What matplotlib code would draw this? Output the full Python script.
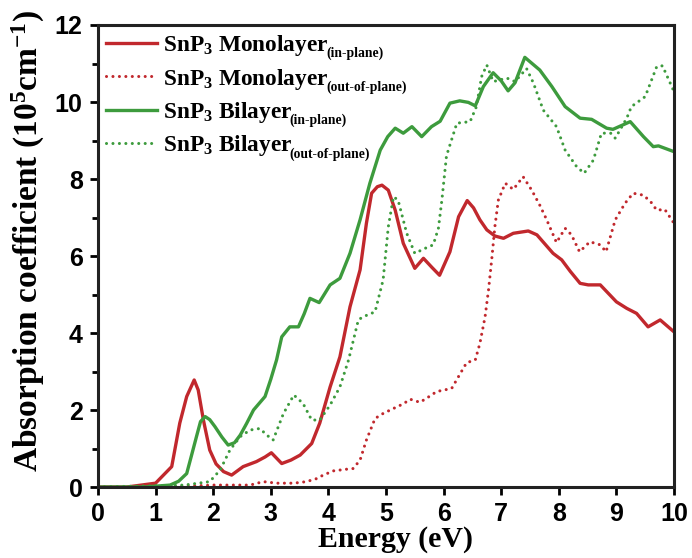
import matplotlib
matplotlib.use("Agg")
import matplotlib.pyplot as plt
from matplotlib.ticker import MultipleLocator

# monolayer, in-plane
mono_in_x = [0, 0.5, 1.0, 1.28, 1.42, 1.54, 1.67, 1.74, 1.83, 1.94, 2.05, 2.18, 2.32, 2.52, 2.75, 2.9,
             3.01, 3.1, 3.19, 3.35, 3.51, 3.71, 3.85, 4.03, 4.2, 4.375, 4.55, 4.66, 4.75, 4.85, 4.93,
             5.04, 5.16, 5.3, 5.5, 5.65, 5.8, 5.93, 6.11, 6.26, 6.41, 6.52, 6.63, 6.75, 6.89, 7.04,
             7.21, 7.47, 7.62, 7.9, 8.05, 8.2, 8.37, 8.51, 8.72, 9.0, 9.18, 9.35, 9.55, 9.76, 10.0]
mono_in_y = [0, 0.0, 0.1, 0.53, 1.66, 2.35, 2.78, 2.52, 1.74, 0.96, 0.6, 0.4, 0.31, 0.53, 0.66, 0.78,
             0.89, 0.75, 0.61, 0.7, 0.83, 1.13, 1.66, 2.6, 3.38, 4.68, 5.64, 6.85, 7.63, 7.8, 7.84,
             7.71, 7.19, 6.33, 5.68, 5.94, 5.7, 5.5, 6.11, 7.02, 7.44, 7.25, 6.94, 6.68, 6.52, 6.46,
             6.59, 6.65, 6.55, 6.07, 5.9, 5.6, 5.29, 5.25, 5.25, 4.81, 4.64, 4.51, 4.16, 4.34, 4.03]

# monolayer, out-of-plane
mono_out_x = [0, 1.0, 1.5, 2.0, 2.4, 2.64, 2.87, 3.1, 3.4, 3.62, 3.8, 3.91, 4.09, 4.3, 4.43, 4.55,
              4.66, 4.81, 4.95, 5.13, 5.3, 5.42, 5.59, 5.75, 5.88, 6.14, 6.31, 6.4, 6.55, 6.63, 6.72,
              6.78, 6.84, 6.89, 6.95, 7.07, 7.21, 7.38, 7.53, 7.67, 7.79, 7.96, 8.11, 8.22, 8.36,
              8.54, 8.72, 8.82, 8.98, 9.15, 9.29, 9.47, 9.6, 9.7, 9.84, 10.0]
mono_out_y = [0, 0, 0.02, 0.05, 0.05, 0.05, 0.14, 0.1, 0.1, 0.14, 0.22, 0.31, 0.42, 0.46, 0.48, 0.7,
              1.22, 1.78, 1.91, 2.04, 2.16, 2.28, 2.2, 2.35, 2.48, 2.56, 3.0, 3.23, 3.3, 3.73, 4.42,
              5.12, 5.98, 6.76, 7.45, 7.89, 7.73, 8.06, 7.71, 7.32, 6.94, 6.35, 6.72, 6.55, 6.11,
              6.37, 6.29, 6.11, 6.94, 7.37, 7.63, 7.58, 7.4, 7.19, 7.21, 6.85]

# bilayer, in-plane
bi_in_x = [0, 0.8, 1.25, 1.4, 1.54, 1.62, 1.71, 1.78, 1.86, 1.94, 2.03, 2.15, 2.26, 2.37, 2.47, 2.58,
           2.7, 2.9, 3.0, 3.1, 3.19, 3.33, 3.48, 3.58, 3.68, 3.84, 4.03, 4.2, 4.375, 4.55, 4.72, 4.9,
           5.03, 5.16, 5.3, 5.45, 5.62, 5.79, 5.94, 6.11, 6.28, 6.43, 6.55, 6.69, 6.86, 7.0, 7.12,
           7.24, 7.41, 7.67, 7.88, 8.11, 8.37, 8.57, 8.83, 8.94, 9.24, 9.47, 9.64, 9.73, 10.0]
bi_in_y = [0, 0, 0.05, 0.15, 0.35, 0.8, 1.31, 1.7, 1.83, 1.75, 1.57, 1.3, 1.09, 1.15, 1.35, 1.65,
           2.0, 2.35, 2.8, 3.3, 3.9, 4.16, 4.16, 4.5, 4.9, 4.79, 5.25, 5.42, 6.07, 6.94, 7.89, 8.75,
           9.1, 9.32, 9.19, 9.36, 9.1, 9.36, 9.5, 9.97, 10.03, 9.99, 9.9, 10.4, 10.76, 10.55, 10.29,
           10.5, 11.16, 10.83, 10.4, 9.88, 9.58, 9.55, 9.32, 9.29, 9.49, 9.1, 8.84, 8.86, 8.71]

# bilayer, out-of-plane
bi_out_x = [0, 1.5, 1.94, 2.12, 2.29, 2.47, 2.64, 2.81, 2.93, 3.04, 3.22, 3.4, 3.56, 3.71, 3.85, 4.03,
            4.2, 4.35, 4.52, 4.6, 4.81, 4.95, 5.04, 5.13, 5.21, 5.36, 5.5, 5.68, 5.82, 5.91, 5.97,
            6.05, 6.23, 6.46, 6.57, 6.66, 6.75, 6.86, 7.1, 7.24, 7.44, 7.56, 7.73, 7.96, 8.11, 8.31,
            8.44, 8.6, 8.74, 8.9, 8.98, 9.18, 9.26, 9.5, 9.7, 9.8, 10.0]
bi_out_y = [0, 0.05, 0.14, 0.44, 0.96, 1.31, 1.48, 1.52, 1.35, 1.22, 1.91, 2.39, 2.17, 1.74, 1.74, 2.13,
            2.6, 3.3, 4.34, 4.42, 4.55, 5.38, 6.76, 7.54, 7.45, 6.59, 6.07, 6.2, 6.29, 6.72, 7.45,
            8.6, 9.45, 9.49, 9.88, 10.66, 10.96, 10.53, 10.62, 10.53, 10.87, 10.49, 9.79, 9.36, 8.75,
            8.32, 8.15, 8.49, 9.19, 9.19, 9.06, 9.58, 9.88, 10.14, 10.92, 10.94, 10.27]

labels = [r"SnP$_3$ Monolayer", r"SnP$_3$ Monolayer", r"SnP$_3$ Bilayer", r"SnP$_3$ Bilayer"]
subs = ["(in-plane)", "(out-of-plane)", "(in-plane)", "(out-of-plane)"]

red = "#c1282d"
green = "#3d9b3d"

plt.rcParams["mathtext.fontset"] = "custom"
plt.rcParams["mathtext.rm"] = "Liberation Serif:bold"
plt.rcParams["mathtext.it"] = "Liberation Serif:bold"
plt.rcParams["mathtext.bf"] = "Liberation Serif:bold"

fig = plt.figure(figsize=(6.92, 5.58), dpi=100)
ax = fig.add_axes([0.1416, 0.1272, 0.8324, 0.8280])

dots = (0, (0.01, 2.1))
ax.plot(mono_in_x, mono_in_y, color=red, lw=2.4, label=labels[0])
ax.plot(mono_out_x, mono_out_y, color=red, lw=2.2, ls=dots, dash_capstyle="round", label=labels[1])
ax.plot(bi_in_x, bi_in_y, color=green, lw=2.4, label=labels[2])
ax.plot(bi_out_x, bi_out_y, color=green, lw=2.2, ls=dots, dash_capstyle="round", label=labels[3])

ax.set_xlim(0, 10)
ax.set_ylim(0, 12)
ax.xaxis.set_major_locator(MultipleLocator(1))
ax.yaxis.set_major_locator(MultipleLocator(2))
ax.yaxis.set_minor_locator(MultipleLocator(1))
ax.tick_params(which="major", direction="out", length=6, width=2, pad=5,
               labelsize=18, top=False, right=False)
ax.tick_params(which="minor", direction="out", length=4, width=2, top=False, right=False)
ax.tick_params(axis="x", which="minor", bottom=False)
for lab in ax.get_xticklabels() + ax.get_yticklabels():
    lab.set_family("Liberation Sans")
    lab.set_fontweight("bold")
for sp in ax.spines.values():
    sp.set_linewidth(2.2)
    sp.set_color("#222222")

ax.set_xlabel("Energy (eV)", family="Liberation Serif", fontweight="bold", fontsize=21.5, labelpad=0)
ax.set_ylabel(r"Absorption coefficient (10$^5$cm$^{-1}$)", family="Liberation Serif",
              fontweight="bold", fontsize=24, labelpad=6)
ax.xaxis.label.set_x(0.516)
ax.yaxis.label.set_y(0.532)

leg = ax.legend(loc="upper left", frameon=False, handlelength=2.2, handletextpad=0.25,
                labelspacing=0.36, borderaxespad=0.25, borderpad=0.1,
                prop={"family": "Liberation Serif", "weight": "bold", "size": 16.8})

# smaller subscripts after each legend entry (positions known after a first draw)
fig.canvas.draw()
for t, s in zip(leg.get_texts(), subs):
    bb = t.get_window_extent()
    ax.annotate(s, xy=(bb.x1 - 3, bb.y0 + 1), xycoords="figure pixels",
                ha="left", va="baseline", family="Liberation Serif", fontweight="bold",
                fontsize=9.8)

fig.savefig("out.png", dpi=100)
